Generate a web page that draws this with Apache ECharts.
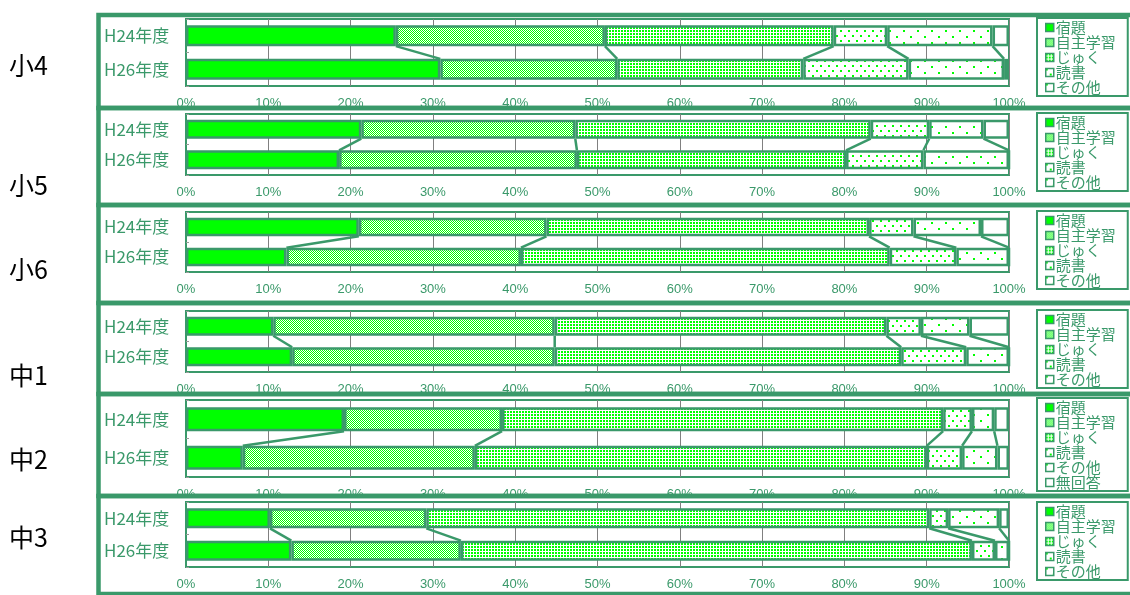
<!DOCTYPE html>
<html>
<head>
<meta charset="utf-8">
<script src="https://cdn.jsdelivr.net/npm/echarts@6/dist/echarts.min.js"></script>
<style>
  html, body { margin: 0; padding: 0; background: #fff; }
  #chart { width: 1130px; height: 595px; }
</style>
</head>
<body>
<div id="chart"></div>
<script>
// data (percent, [H24, H26] per grade)
const grades = ['小4', '小5', '小6', '中1', '中2', '中3']
const years = ['H24年度', 'H26年度']
const names = ['宿題', '自主学習', 'じゅく', '読書', 'その他', '無回答']
const shukudai = [[25.5, 30.9], [21.3, 18.6], [21.0, 12.2], [10.6, 12.9], [19.2, 6.9], [10.2, 12.8]]
const jishu = [[25.4, 21.5], [26.0, 28.9], [22.8, 28.5], [34.2, 31.9], [19.2, 28.2], [19.0, 20.6]]
const juku = [[27.8, 22.6], [35.9, 32.7], [39.2, 44.8], [40.3, 42.1], [53.6, 54.9], [61.1, 62.1]]
const dokusho = [[6.5, 12.8], [7.1, 9.4], [5.4, 8.1], [4.2, 7.9], [3.5, 4.3], [2.3, 2.8]]
const sonota = [[12.8, 11.6], [6.6, 10.4], [8.2, 6.4], [5.9, 5.2], [2.7, 4.3], [6.2, 1.7]]
const mukaitou = [[2.0, 0.6], [3.1, 0], [3.4, 0], [4.8, 0], [1.8, 1.4], [1.2, 0]]
const legendCounts = [5, 5, 5, 5, 6, 5]

// layout of the six panels
const frameTops = [15, 108, 205, 303, 394, 496]
const frameEnd = 594
const plotTops = [19, 114, 212, 311, 400, 502]
const plotBottoms = [86, 175, 272, 372, 477, 567]
const legendTops = [18, 113, 211, 310, 398, 502]
const gradeY = [68, 188, 272, 378, 462, 540]

const green = '#3a996a'
const jp = '"Noto Sans CJK JP", sans-serif'
const barRatio = 0.62

function pattern (w, h, dots, size) {
    const c = document.createElement('canvas')
    c.width = w
    c.height = h
    const g = c.getContext('2d')
    g.fillStyle = '#fff'
    g.fillRect(0, 0, w, h)
    g.fillStyle = '#00ff00'
    dots.forEach((d) => g.fillRect(d[0], d[1], size, size))
    return {image: c, repeat: 'repeat'}
}

const fills = [
    '#00ff00',
    pattern(2, 2, [[0, 0], [1, 1]], 1),
    pattern(3, 3, [[0, 0]], 2),
    pattern(8, 10, [[0, 0], [4, 5]], 2),
    pattern(14, 12, [[0, 0], [7, 6]], 2),
    '#ffffff'
]
const seriesData = [shukudai, jishu, juku, dokusho, sonota, mukaitou]

const grid = [], xAxis = [], yAxis = [], series = [], legend = [], graphic = []

grades.forEach((gr, i) => {
    grid.push({
        left: 186, width: 823, top: plotTops[i], height: plotBottoms[i] - plotTops[i],
        show: true, borderColor: green, borderWidth: 2, backgroundColor: 'transparent'
    })
    xAxis.push({
        gridIndex: i, type: 'value', min: 0, max: 100, interval: 10,
        axisLine: {show: false}, axisTick: {show: false},
        splitLine: {lineStyle: {color: '#808080', width: 1}},
        axisLabel: {
            formatter: '{value}%', color: green, fontSize: 13, margin: 11,
            fontFamily: '"Liberation Sans Narrow", "Liberation Sans", sans-serif'
        }
    })
    yAxis.push({
        gridIndex: i, type: 'category', data: years, inverse: true,
        axisLine: {lineStyle: {color: green, width: 2}},
        axisTick: {show: true, inside: true, length: 3, lineStyle: {color: '#999'}},
        axisLabel: {color: green, fontSize: 17, fontFamily: jp, align: 'left', margin: 82}
    })
    // stacked bars
    const cum = [[0, 0]]
    seriesData.forEach((arr, k) => {
        series.push({
            name: names[k], type: 'bar', stack: 'p' + i,
            xAxisIndex: i, yAxisIndex: i, barWidth: (barRatio * 100) + '%',
            itemStyle: {color: fills[k], borderColor: green, borderWidth: 2.5},
            data: arr[i]
        })
        const prev = cum[cum.length - 1]
        cum.push([prev[0] + arr[i][0], prev[1] + arr[i][1]])
    })
    // series lines between the two bars
    series.push({
        type: 'custom', xAxisIndex: i, yAxisIndex: i, silent: true, z: 3,
        encode: {x: [0, 1], y: 2},
        data: cum.slice(1, 6).map((c) => [c[0], c[1], 0]),
        renderItem: (params, api) => {
            const a = api.coord([api.value(0), 0])
            const b = api.coord([api.value(1), 1])
            const half = api.size([0, 1])[1] * barRatio / 2
            return {
                type: 'line',
                shape: {x1: a[0], y1: a[1] + half, x2: b[0], y2: b[1] - half},
                style: {stroke: green, lineWidth: 2.5}
            }
        }
    })
    legend.push({
        orient: 'vertical', left: 1037, top: legendTops[i],
        data: names.slice(0, legendCounts[i]),
        itemWidth: 8, itemHeight: 8, itemGap: 0,
        padding: [2, 12, 1, 8],
        backgroundColor: '#fff', borderColor: green, borderWidth: 2, borderRadius: 0,
        icon: 'rect', selectedMode: false,
        itemStyle: {borderColor: green, borderWidth: 1.5},
        textStyle: {color: green, fontSize: 15, lineHeight: 14.5, fontFamily: jp, padding: [0, 0, 0, -3]}
    })
    const bottom = i < grades.length - 1 ? frameTops[i + 1] : frameEnd
    graphic.push({
        type: 'rect', z: 100, silent: true,
        shape: {x: 98.5, y: frameTops[i], width: 1200, height: bottom - frameTops[i]},
        style: {fill: 'none', stroke: green, lineWidth: 4.5}
    })
    graphic.push({
        type: 'text', z: 100, silent: true, left: 9, top: gradeY[i] - 15,
        style: {text: gr, font: '25px ' + jp, fill: '#000'}
    })
})

const chart = echarts.init(document.getElementById('chart'))
chart.setOption({
    animation: false,
    textStyle: {fontFamily: jp},
    grid, xAxis, yAxis, series, legend, graphic
})
</script>
</body>
</html>
